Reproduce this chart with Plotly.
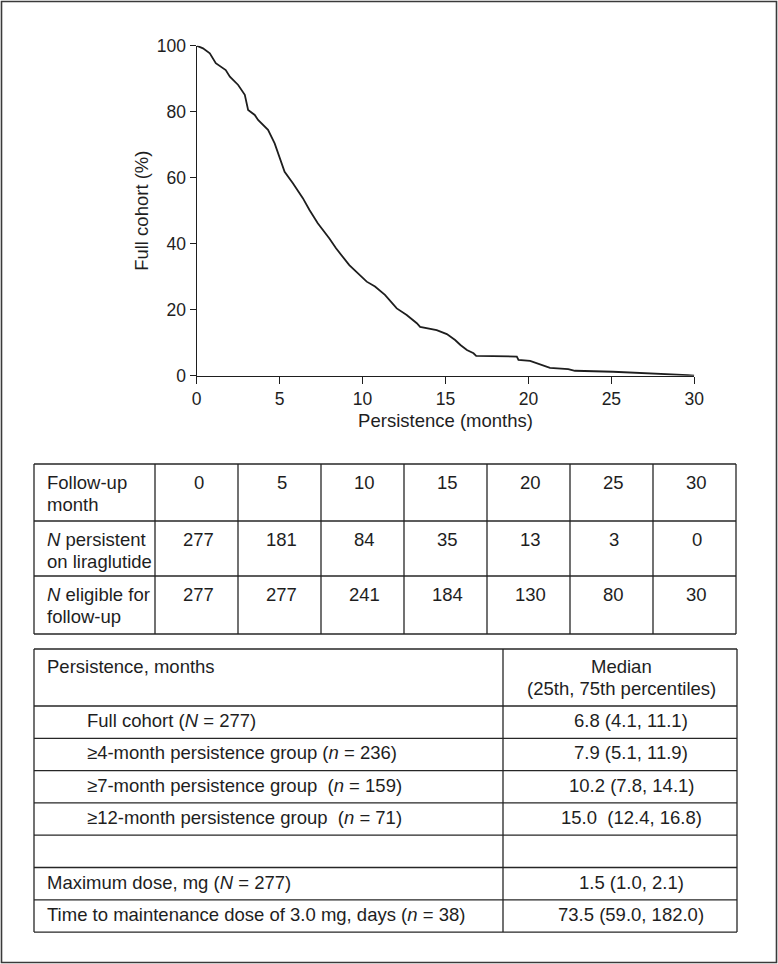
import plotly.graph_objects as go

# ---- Kaplan-Meier style persistence curve ----
months = [0, 0.38, 0.79, 1.15, 1.75, 2.0, 2.5, 2.9, 3.1, 3.5, 3.7, 4.3, 4.7, 5.0,
          5.3, 5.8, 6.4, 6.8, 7.3, 8.0, 8.4, 9.2, 10.25, 10.75, 11.35, 12.06,
          12.66, 13.27, 13.47, 14.47, 15.08, 15.58, 15.9, 16.29, 16.69, 16.85,
          19.3, 19.4, 20.1, 21.3, 22.4, 22.8, 25.1, 29.6, 30]
persist = [100, 99.2, 97.7, 94.7, 92.6, 90.6, 88.1, 85.1, 80.5, 79.0, 77.5, 74.5,
           70.4, 66.4, 61.8, 58.3, 53.8, 50.2, 46.2, 41.6, 38.6, 33.5, 28.5, 27.0,
           24.5, 20.4, 18.4, 15.9, 14.8, 13.8, 12.6, 10.8, 9.3, 7.8, 6.8, 6.0,
           5.8, 4.8, 4.5, 2.4, 2.0, 1.5, 1.2, 0.2, 0]

x_ticks = [0, 5, 10, 15, 20, 25, 30]
y_ticks = [0, 20, 40, 60, 80, 100]

# ---- Table 1: numbers at risk ----
followup_month = ["0", "5", "10", "15", "20", "25", "30"]
n_persistent = ["277", "181", "84", "35", "13", "3", "0"]
n_eligible = ["277", "277", "241", "184", "130", "80", "30"]
table1_row_labels = ["Follow-up<br>month",
                     "<i>N</i> persistent<br>on liraglutide",
                     "<i>N</i> eligible for<br>follow-up"]

# ---- Table 2: medians ----
summary_header = ["Persistence, months", "Median<br>(25th, 75th percentiles)"]
summary_labels = [
    "Full cohort (<i>N</i> = 277)",
    "≥4-month persistence group (<i>n</i> = 236)",
    "≥7-month persistence group \u00a0(<i>n</i> = 159)",
    "≥12-month persistence group \u00a0(<i>n</i> = 71)",
    "",
    "Maximum dose, mg (<i>N</i> = 277)",
    "Time to maintenance dose of 3.0 mg, days (<i>n</i> = 38)",
]
summary_indent = [1, 1, 1, 1, 0, 0, 0]
summary_values = [
    "6.8 (4.1, 11.1)",
    "7.9 (5.1, 11.9)",
    "10.2 (7.8, 14.1)",
    "15.0 \u00a0(12.4, 16.8)",
    "",
    "1.5 (1.0, 2.1)",
    "73.5 (59.0, 182.0)",
]

# ---- layout constants (pixels) ----
W, H = 778, 964
FONT = "Liberation Sans, Arial, Helvetica, sans-serif"
INK = "#1e1e1e"
GRID = "#262626"
TFONT = 18.5
LINE_GAP = 22
BASE_OFF = 0.3465 * TFONT  # baseline -> visual middle of the text box


def px(v):
    return v / W


def py(v):
    return 1 - v / H


shapes = []
annotations = []


def hline(x0, x1, y):
    shapes.append(dict(type="line", xref="paper", yref="paper",
                       x0=px(x0), x1=px(x1), y0=py(y), y1=py(y),
                       line=dict(color=GRID, width=1.3)))


def vline(x, y0, y1):
    shapes.append(dict(type="line", xref="paper", yref="paper",
                       x0=px(x), x1=px(x), y0=py(y0), y1=py(y1),
                       line=dict(color=GRID, width=1.3)))


def cell_text(text, x, baseline, anchor):
    for i, line in enumerate(text.split("<br>")):
        if not line:
            continue
        annotations.append(dict(
            xref="paper", yref="paper", x=px(x), y=py(baseline + i * LINE_GAP - BASE_OFF),
            xanchor=anchor, yanchor="middle", text=line, showarrow=False,
            font=dict(family=FONT, size=TFONT, color=INK)))


# Table 1 grid
t1_left = 34
t1_cols = [121] + [83] * 7
t1_rows = [464, 521, 576, 634]
t1_edges = [t1_left]
for w in t1_cols:
    t1_edges.append(t1_edges[-1] + w)
for y in t1_rows:
    hline(t1_edges[0], t1_edges[-1], y)
for x in t1_edges:
    vline(x, t1_rows[0], t1_rows[-1])

t1_values = [followup_month, n_persistent, n_eligible]
for r in range(3):
    top = t1_rows[r]
    cell_text(table1_row_labels[r], t1_left + 11, top + 25, "left")
    for c, val in enumerate(t1_values[r]):
        cx = (t1_edges[c + 1] + t1_edges[c + 2]) / 2 + 2
        cell_text(val, cx, top + 25, "center")

# Table 2 grid
t2_left, t2_mid, t2_right = 34, 503, 737
t2_rows = [649, 706] + [706 + 32.3 * (i + 1) for i in range(7)]
for y in t2_rows:
    hline(t2_left, t2_right, y)
for x in (t2_left, t2_mid, t2_right):
    vline(x, t2_rows[0], t2_rows[-1])

cell_text(summary_header[0], t2_left + 11, t2_rows[0] + 24, "left")
cell_text(summary_header[1], (t2_mid + t2_right) / 2 + 1, t2_rows[0] + 24, "center")
for i, (lab, ind, val) in enumerate(zip(summary_labels, summary_indent, summary_values)):
    top = t2_rows[i + 1]
    cell_text(lab, t2_left + 11 + 40 * ind, top + 21, "left")
    cell_text(val, (t2_mid + t2_right) / 2 + 11, top + 21, "center")

# outer frame
shapes.append(dict(type="rect", xref="paper", yref="paper",
                   x0=px(1.5), x1=px(776.5), y0=py(962.5), y1=py(1.5),
                   line=dict(color="#3a3a3a", width=1.6), fillcolor="rgba(0,0,0,0)",
                   layer="below"))

fig = go.Figure()
fig.add_trace(go.Scatter(
    x=months, y=persist, mode="lines",
    line=dict(color=INK, width=1.8),
    hoverinfo="skip", showlegend=False,
))

fig.update_layout(
    width=W, height=H,
    margin=dict(l=0, r=0, t=0, b=0),
    paper_bgcolor="white", plot_bgcolor="white",
    font=dict(family=FONT, size=17, color=INK),
    showlegend=False,
    xaxis=dict(
        domain=[px(196.7), px(694.3)], range=[0, 30],
        tickmode="array", tickvals=x_ticks,
        ticks="outside", ticklen=7, tickwidth=1.4, tickcolor=INK,
        showline=True, linecolor=INK, linewidth=1.4,
        showgrid=False, zeroline=False,
        tickfont=dict(size=17.5, color=INK),
        title=dict(text="Persistence (months)", font=dict(size=18.5, color=INK), standoff=6),
        automargin=False,
    ),
    yaxis=dict(
        domain=[py(375.7), py(45.7)], range=[0, 100],
        tickmode="array", tickvals=y_ticks,
        ticks="outside", ticklen=6, tickwidth=1.4, tickcolor=INK,
        showline=True, linecolor=INK, linewidth=1.4,
        showgrid=False, zeroline=False,
        tickfont=dict(size=17.5, color=INK),
        title=dict(text="Full cohort (%)", font=dict(size=18.5, color=INK), standoff=3),
        automargin=False,
    ),
    shapes=shapes,
    annotations=annotations,
)

fig.write_html("out.html", config={"displayModeBar": False},
               post_script="document.body.style.margin='0';")
